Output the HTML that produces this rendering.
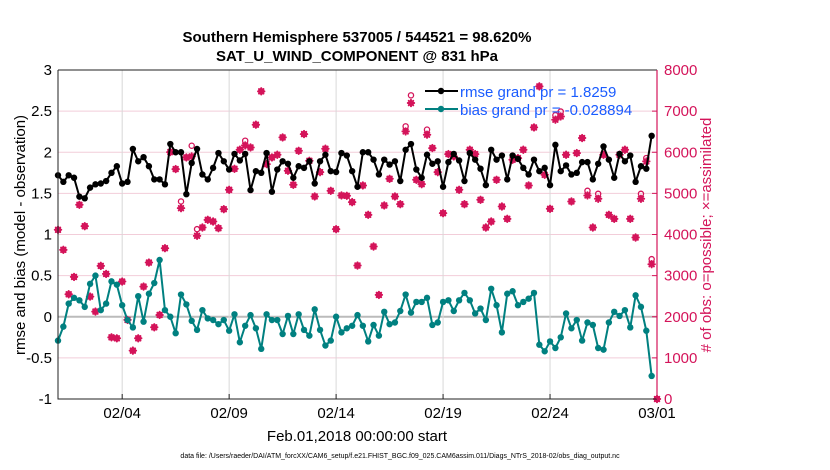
<!DOCTYPE html>
<html><head><meta charset="utf-8"><style>
html,body{margin:0;padding:0;background:#fff;}
svg{display:block;font-family:"Liberation Sans",sans-serif;}
</style></head><body>
<svg id="chart" width="830" height="470" viewBox="0 0 830 470" xmlns="http://www.w3.org/2000/svg">
<text x="357" y="42" text-anchor="middle" font-size="15" font-weight="bold">Southern Hemisphere 537005 / 544521 = 98.620%</text>
<text x="357" y="61" text-anchor="middle" font-size="15" font-weight="bold">SAT_U_WIND_COMPONENT @ 831 hPa</text>
<text transform="translate(25,235) rotate(-90)" text-anchor="middle" font-size="15">rmse and bias (model - observation)</text>
<text transform="translate(711,235) rotate(-90)" text-anchor="middle" font-size="15" fill="#d4145a"># of obs: o=possible; ×=assimilated</text>
<text x="357" y="441" text-anchor="middle" font-size="15">Feb.01,2018 00:00:00 start</text>
<text x="400" y="458" text-anchor="middle" font-size="7">data file: /Users/raeder/DAI/ATM_forcXX/CAM6_setup/f.e21.FHIST_BGC.f09_025.CAM6assim.011/Diags_NTrS_2018-02/obs_diag_output.nc</text>
<g id="grid"></g><g id="marks"></g><g id="axes"></g>
<g>
<line x1="425" y1="91" x2="458" y2="91" stroke="#000" stroke-width="2"/><circle cx="441" cy="91" r="3.2" fill="#000"/>
<text x="460" y="97" font-size="15" fill="#1a5cff">rmse grand pr = 1.8259</text>
<line x1="425" y1="109" x2="458" y2="109" stroke="#008080" stroke-width="2"/><circle cx="441" cy="109" r="3.2" fill="#008080"/>
<text x="460" y="115" font-size="15" fill="#1a5cff">bias grand pr = -0.028894</text>
</g>
</svg>
<script>
const rmse=[1.72,1.64,1.72,1.69,1.46,1.44,1.57,1.61,1.62,1.65,1.75,1.83,1.62,1.64,2.04,1.89,1.94,1.83,1.67,1.67,1.61,2.10,2.0,2.0,1.49,1.87,2.04,1.73,1.67,
1.81,1.99,1.89,1.79,1.98,1.90,1.98,1.54,1.77,1.75,1.99,1.52,1.79,1.89,1.86,1.69,1.83,1.81,1.89,1.62,1.89,1.97,1.77,1.76,1.99,1.96,1.77,1.58,
2.0,2.0,1.91,1.73,1.91,1.85,1.89,1.65,2.03,2.10,1.79,1.69,1.97,1.86,1.89,1.58,1.88,1.98,1.90,1.65,1.99,1.91,1.80,1.60,2.03,1.91,1.96,1.67,
1.96,1.92,1.81,1.73,1.91,1.77,1.81,1.60,2.09,1.77,1.84,1.73,1.75,1.88,1.88,1.67,1.86,2.07,1.91,1.69,1.98,1.89,1.96,1.64,1.83,1.80,2.20];
const bias=[-0.29,-0.12,0.16,0.23,0.20,0.12,0.40,0.50,0.08,0.16,0.43,0.39,0.14,-0.04,-0.13,0.25,-0.06,0.28,0.41,0.69,0.08,0.0,-0.20,0.27,0.15,-0.05,-0.16,0.08,-0.02,
-0.04,-0.09,-0.04,-0.17,0.03,-0.31,-0.11,0.02,-0.14,-0.39,0.03,-0.04,-0.04,-0.21,0.01,-0.21,0.03,-0.16,-0.23,0.09,-0.16,-0.35,-0.29,0.0,-0.19,-0.14,-0.11,0.02,
-0.11,-0.30,-0.10,-0.23,0.06,-0.09,-0.07,0.07,0.27,0.05,0.18,0.18,0.23,-0.10,-0.07,0.18,0.20,0.07,0.20,0.29,0.20,0.04,0.10,-0.04,0.34,0.14,-0.19,0.28,
0.31,0.14,0.18,0.22,0.29,-0.34,-0.42,-0.30,-0.38,-0.25,0.04,-0.14,-0.04,-0.29,-0.07,-0.10,-0.38,-0.40,-0.07,0.06,0.01,0.08,-0.13,0.26,0.12,-0.17,-0.72];
const nAssim=[4114,3627,2547,2969,4722,4203,2490,2125,3237,3042,1500,1476,2856,1923,1176,1476,2734,3318,1744,2044,3667,6004,5590,4641,5874,5898,3967,4170,4357,
4316,4154,4616,5087,5598,6061,6166,6117,6669,7481,5712,5874,5939,6361,5549,5209,6036,6442,5793,4925,5517,6085,5063,4130,4949,4941,4787,3245,
5192,4478,3708,2531,4706,5355,4925,4738,6507,7197,5330,5225,6426,6101,5517,4519,5955,5898,5087,4738,6061,5955,4844,4170,4316,5330,4681,4381,
5817,5858,6061,5192,6604,7602,5452,4625,6791,6870,5939,4803,5980,6345,4949,4170,4868,5939,4478,4381,5939,6061,4381,3927,4868,5777,3278,0];
const nPossible=[4114,3627,2547,2969,4722,4203,2490,2125,3237,3042,1500,1476,2856,1923,1176,1476,2734,3318,1744,2044,3667,6004,5590,4803,5874,6158,4130,4170,4357,
4316,4154,4616,5087,5598,6061,6280,6117,6669,7481,5712,5874,5939,6361,5549,5209,6036,6442,5793,4925,5517,6085,5063,4130,4949,4941,4787,3245,
5192,4478,3708,2531,4706,5355,4925,4738,6630,7384,5330,5225,6550,6101,5517,4519,5955,5898,5087,4738,6061,5955,4844,4170,4316,5330,4681,4381,
5817,5858,6061,5192,6604,7602,5452,4625,6900,6990,5939,4803,5980,6345,5063,4170,4990,5939,4478,4381,5939,6061,4381,3927,4990,5858,3400,0];
const xTickDays=[3,8,13,18,23,28];
const xTickLabels=["02/04","02/09","02/14","02/19","02/24","03/01"];
const yLeftTicks=[-1,-0.5,0,0.5,1,1.5,2,2.5,3];
const yLeftLabels=["-1","-0.5","0","0.5","1","1.5","2","2.5","3"];
const yRightTicks=[0,1000,2000,3000,4000,5000,6000,7000,8000];
const stepDays=0.25;

const L=58,R=657,T=70,B=399;
const X=d=>L+(d/28)*(R-L);
const Y=v=>B-(v+1)/4*(B-T);
const Y2=n=>B-n/8000*(B-T);
const NS="http://www.w3.org/2000/svg";
function mk(tag,attrs,parent){const e=document.createElementNS(NS,tag);for(const k in attrs)e.setAttribute(k,attrs[k]);parent.appendChild(e);return e;}
const grid=document.getElementById('grid'),marks=document.getElementById('marks'),axes=document.getElementById('axes');
const MAG="#d4145a";

yLeftTicks.forEach((v,i)=>{
  if(v>-1&&v<3){const g=mk('line',{x1:L,x2:R,y1:Y(v),y2:Y(v),stroke:v===0?'#bbbbbb':'#f2cdd9','stroke-width':v===0?2:1},grid);
  
  }
  const t=mk('text',{x:L-6,y:Y(v)+5,'text-anchor':'end','font-size':15},axes);t.textContent=yLeftLabels[i];
  
  
});
xTickDays.forEach((d,i)=>{
  if(d<28){const g=mk('line',{x1:X(d),x2:X(d),y1:T,y2:B,stroke:'#d8d8d8','stroke-width':1},grid);
  
  }
  mk('line',{x1:X(d),x2:X(d),y1:B,y2:B-5,stroke:'#222'},axes);
  const t=mk('text',{x:X(d),y:418,'text-anchor':'middle','font-size':15},axes);t.textContent=xTickLabels[i];
  
  
});
yRightTicks.forEach(n=>{
  mk('line',{x1:R,x2:R-5,y1:Y2(n),y2:Y2(n),stroke:MAG},axes);
  const t=mk('text',{x:R+7,y:Y2(n)+5,'font-size':15,fill:MAG},axes);t.textContent=String(n);
  
  
});
const pl=mk('path',{d:`M${L},${T}L${L},${B}L${R},${B}M${L},${T}L${R},${T}`,stroke:'#222',fill:'none','stroke-width':1},axes);


mk('line',{x1:R,x2:R,y1:T,y2:B,stroke:MAG,'stroke-width':1.2},axes);

nPossible.forEach((n,i)=>{
  const x=X(i*stepDays);
  const c=mk('circle',{cx:x,cy:Y2(n),r:2.6,fill:'none',stroke:MAG,'stroke-width':1.3},marks);
  
  
});
nAssim.forEach((n,i)=>{
  const x=X(i*stepDays),y=Y2(n),s=3.2;
  const g=mk('g',{stroke:MAG,'stroke-width':2,'stroke-linecap':'round'},marks);
  
  
  mk('line',{x1:x-s,x2:x+s,y1:y,y2:y},g);
  mk('line',{x1:x,x2:x,y1:y-s,y2:y+s},g);
  mk('line',{x1:x-s*0.7,x2:x+s*0.7,y1:y-s*0.7,y2:y+s*0.7},g);
  mk('line',{x1:x-s*0.7,x2:x+s*0.7,y1:y+s*0.7,y2:y-s*0.7},g);
});
function series(arr,color,name){
  const d=arr.map((v,i)=>(i?'L':'M')+X(i*stepDays).toFixed(2)+','+Y(v).toFixed(2)).join('');
  const p=mk('path',{d:d,stroke:color,'stroke-width':2,fill:'none','stroke-linejoin':'round'},marks);
  
  
  arr.forEach((v,i)=>{
    const c=mk('circle',{cx:X(i*stepDays),cy:Y(v),r:3.2,fill:color},marks);
    
    
  });
}
series(bias,'#008080','bias');
series(rmse,'#000000','rmse');
</script>
</body></html>
